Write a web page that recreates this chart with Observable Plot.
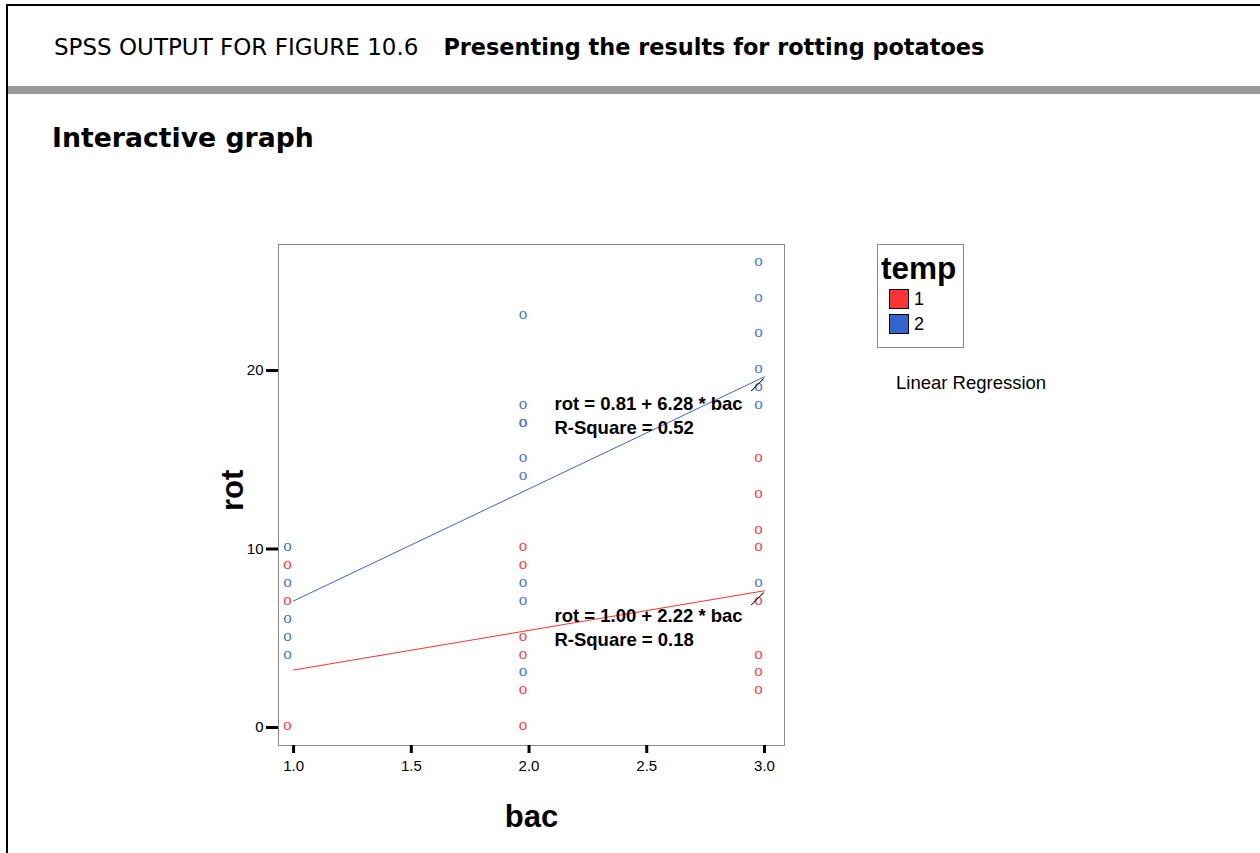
<!DOCTYPE html>
<html>
<head>
<meta charset="utf-8">
<script src="https://cdn.jsdelivr.net/npm/d3@7"></script>
<script src="https://cdn.jsdelivr.net/npm/@observablehq/plot@0.6"></script>
<style>
  html, body { margin: 0; padding: 0; background: #fff; }
  #page { position: relative; width: 1260px; height: 853px; overflow: hidden; background: #fff; }
  #frame { position: absolute; left: 6px; top: 4px; width: 1300px; height: 900px;
           border-top: 2px solid #000; border-left: 2px solid #000; }
  #bar { position: absolute; left: 8px; top: 86px; width: 1260px; height: 8px; background: #999; }
  #head { position: absolute; left: 54px; top: 33px; font-family: "DejaVu Sans", Verdana, sans-serif;
          font-size: 23px; white-space: nowrap; color: #000; line-height: 28px; }
  #head b { margin-left: 25px; font-size: 22.4px; }
  #sub { position: absolute; left: 52px; top: 122px; font-family: "DejaVu Sans", Verdana, sans-serif;
         font-size: 26.7px; font-weight: bold; color: #000; white-space: nowrap; line-height: 32px; }
  #chart { position: absolute; left: 0; top: 180px; }
  #chart g[aria-label$="tick label"] { font-size: 15px !important; }
  #chart g[aria-label$="tick label"] text { font-size: 15px !important; }
  #legend { position: absolute; left: 877px; top: 244px; width: 87px; height: 104px;
            border: 1px solid #888; box-sizing: border-box; font-family: "Liberation Sans", Arial, sans-serif; }
  #legend .t { position: absolute; left: 3px; top: 7px; font-size: 31.5px; font-weight: bold; line-height: 32px; }
  #legend .row { position: absolute; left: 11px; font-size: 18px; line-height: 20px; }
  #legend .sw { display: inline-block; width: 18px; height: 18px; border: 1px solid #000;
                vertical-align: top; margin-right: 5px; }
  #lr { position: absolute; left: 896px; top: 372px; font-family: "Liberation Sans", Arial, sans-serif;
        font-size: 18.5px; white-space: nowrap; line-height: 22px; }
</style>
</head>
<body>
<div id="page">
  <div id="frame"></div>
  <div id="head">SPSS OUTPUT FOR FIGURE 10.6<b>Presenting the results for rotting potatoes</b></div>
  <div id="bar"></div>
  <div id="sub">Interactive graph</div>
  <div id="chart"></div>
  <div id="legend"></div>
  <div id="lr">Linear Regression</div>
</div>
<script>
// ---- data ----
const tempLevels = ["1", "2"];
const tempColors = ["#ff4545", "#4a78e0"];
const lineColors = ["#ff3030", "#3a62d8"];

// temp = 1 (red)
const bac1 = [1, 1, 1, 2, 2, 2, 2, 2, 2, 3, 3, 3, 3, 3, 3, 3, 3];
const rot1 = [9, 7, 0, 10, 9, 5, 4, 2, 0, 15, 13, 11, 10, 7, 4, 3, 2];
// temp = 2 (blue)
const bac2 = [1, 1, 1, 1, 1, 2, 2, 2, 2, 2, 2, 2, 2, 2, 3, 3, 3, 3, 3, 3, 3];
const rot2 = [10, 8, 6, 5, 4, 23, 18, 17, 17, 15, 14, 8, 7, 3, 26, 24, 22, 20, 19, 18, 8];

// fitted regression lines (ends at bac = 1 and bac = 3)
const fitBac = [1, 3];
const fitRot1 = [3.22, 7.66];
const fitRot2 = [7.09, 19.65];

const equations = ["rot = 1.00 + 2.22 * bac", "rot = 0.81 + 6.28 * bac"];
const rsquares = ["R-Square = 0.18", "R-Square = 0.52"];
const labelBac = [2.108, 2.108];
const eqRot = [6.22, 18.1];
const rsqRot = [4.87, 16.8];

const xTicks = [1.0, 1.5, 2.0, 2.5, 3.0];
const yTicks = [0, 10, 20];

// ---- build tables ----
const pts = [
  ...bac1.map((b, i) => ({bac: b, rot: rot1[i], temp: "1"})),
  ...bac2.map((b, i) => ({bac: b, rot: rot2[i], temp: "2"}))
];
const fits = [
  ...fitBac.map((b, i) => ({bac: b, rot: fitRot1[i], temp: "1"})),
  ...fitBac.map((b, i) => ({bac: b, rot: fitRot2[i], temp: "2"}))
];
const ends = [
  {bac: fitBac[1], rot: fitRot1[1]},
  {bac: fitBac[1], rot: fitRot2[1]}
];
const labels = [
  ...equations.map((e, i) => ({bac: labelBac[i], rot: eqRot[i], text: e})),
  ...rsquares.map((e, i) => ({bac: labelBac[i], rot: rsqRot[i], text: e}))
];

const colorOf = t => tempColors[tempLevels.indexOf(t)];
const lineOf = t => lineColors[tempLevels.indexOf(t)];

const slash = { draw(ctx, l) { ctx.moveTo(0, 0); ctx.lineTo(0, -l); } };

const chart = Plot.plot({
  width: 1260,
  height: 673,
  marginLeft: 278,
  marginRight: 476,
  marginTop: 64,
  marginBottom: 108,
  style: {fontFamily: "Liberation Sans, Arial, sans-serif", fontSize: "15px", background: "transparent", overflow: "visible"},
  x: {domain: [0.936, 3.085]},
  y: {domain: [-1.01, 27.06]},
  marks: [
    Plot.frame({stroke: "#8a8a8a", strokeWidth: 1}),
    Plot.axisY({ticks: yTicks, tickSize: 12, strokeWidth: 3, stroke: "#000", fill: "#000",
                fontSize: 15, tickPadding: 3, label: null}),
    Plot.axisX({ticks: xTicks, tickFormat: d3.format(".1f"), tickSize: 8, strokeWidth: 3, stroke: "#000",
                fill: "#000", fontSize: 15, tickPadding: 7, label: null}),
    Plot.text(["rot"], {frameAnchor: "left", dx: -45, dy: 16, rotate: -90, fontSize: 31, fontWeight: "bold", fill: "#000"}),
    Plot.text(["bac"], {frameAnchor: "bottom", dy: 81, fontSize: 31, fontWeight: "bold", fill: "#000"}),
    Plot.line(fits, {x: "bac", y: "rot", z: "temp", stroke: d => lineOf(d.temp), strokeWidth: 1}),
    Plot.text(pts, {x: "bac", y: "rot", text: () => "o", fill: d => colorOf(d.temp),
                    fontFamily: "Liberation Serif, Times New Roman, serif", fontSize: 17, dx: -6, dy: -3}),
    Plot.vector(ends, {x: "bac", y: "rot", length: 17, rotate: 45, anchor: "middle", shape: slash,
                       stroke: "#000", strokeWidth: 1, dx: -7, dy: 8}),
    Plot.text(labels, {x: "bac", y: "rot", text: "text", textAnchor: "start", lineAnchor: "middle",
                       fontSize: 18.5, fontWeight: "bold", fill: "#000"})
  ]
});
document.getElementById("chart").appendChild(chart);

// legend
const lg = document.getElementById("legend");
const t = document.createElement("div");
t.className = "t"; t.textContent = "temp"; lg.appendChild(t);
tempLevels.forEach((lev, i) => {
  const r = document.createElement("div");
  r.className = "row";
  r.style.top = (44 + i * 25) + "px";
  const sw = document.createElement("span");
  sw.className = "sw"; sw.style.background = i === 0 ? "#ff3333" : "#3366cc";
  r.appendChild(sw);
  r.appendChild(document.createTextNode(lev));
  lg.appendChild(r);
});
</script>
</body>
</html>
